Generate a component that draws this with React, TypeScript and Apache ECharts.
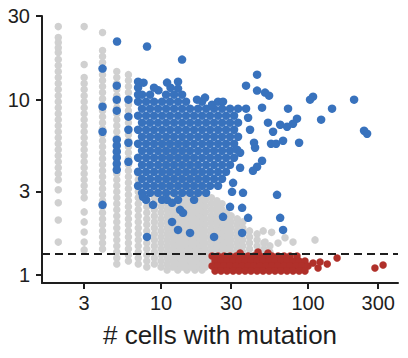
import React, { useEffect, useRef } from "react";
import * as echarts from "echarts";

const xTicks = [3, 10, 30, 100, 300];
const yTicks = [1, 3, 10, 30];
const xRange = [1.55, 409];
const yRange = [0.9, 30];
const threshold = 1.32;
const xTitle = "# cells with mutation";

// gray (non-significant) points: [cells, score list]
const grayColumns: Array<[number, number[]]> = [
  [2, [26.1, 22.6, 21.2, 19.8, 18.6, 16.93, 15.64, 14.45, 13.36, 12.35, 11.41, 10.54, 9.742, 9.002, 8.318, 7.687, 7.103, 6.564, 6.066, 5.606, 5.18, 4.787, 4.423, 4.087, 3.777, 3.49, 3.06, 2.58, 2.06, 1.54]],
  [3, [26.1, 15.85, 13.36, 12.35, 11.41, 10.54, 9.742, 9.002, 8.318, 7.687, 7.103, 6.564, 6.066, 5.606, 5.18, 4.787, 4.423, 4.087, 3.777, 3.49, 3.226, 2.981, 2.754, 2.29, 2.008, 1.76, 1.54, 1.39]],
  [4, [24.15, 19.05, 17.61, 16.27, 15.04, 13.89, 12.84, 11.87, 10.97, 10.13, 9.364, 8.653, 7.996, 7.389, 6.829, 6.31, 5.831, 5.388, 4.98, 4.601, 4.252, 3.929, 3.631, 3.355, 3.101, 2.865, 2.648, 2.447, 2.261, 2.089, 1.931, 1.784, 1.649, 1.524, 1.408]],
  [5, [14.45, 13.36, 12.35, 11.41, 10.54, 9.742, 9.002, 8.318, 7.687, 7.103, 6.564, 6.066, 5.606, 5.18, 4.787, 4.423, 4.087, 3.777, 3.49, 3.226, 2.981, 2.754, 2.545, 2.352, 2.173, 2.008, 1.856, 1.715, 1.585, 1.465, 1.353, 1.251, 1.156]],
  [6, [13.89, 12.84, 11.87, 10.97, 10.13, 9.364, 8.653, 7.996, 7.389, 6.829, 6.31, 5.831, 5.388, 4.98, 4.601, 4.252, 3.929, 3.631, 3.355, 3.101, 2.865, 2.648, 2.447, 2.261, 2.089, 1.931, 1.784, 1.649, 1.524, 1.408, 1.301, 1.202]],
  [7, [3.777, 3.49, 3.226, 2.981, 2.754, 2.545, 2.352, 2.173, 2.008, 1.856, 1.715, 1.585, 1.465, 1.353, 1.251, 1.156]],
  [8, [2.865, 2.648, 2.447, 2.261, 2.089, 1.931, 1.784, 1.649, 1.524, 1.408, 1.301, 1.202, 1.111]],
  [9, [2.981, 2.754, 2.545, 2.352, 2.173, 2.008, 1.856, 1.715, 1.585, 1.465, 1.353, 1.251, 1.156]],
  [10, [5.831, 5.388, 4.98, 4.601, 4.252, 3.929, 3.631, 3.355, 3.101, 2.865, 2.648, 2.447, 2.261, 2.089, 1.931, 1.784, 1.649, 1.524, 1.408, 1.301, 1.202, 1.111]],
  [11, [5.606, 5.18, 4.787, 4.423, 4.087, 3.777, 3.49, 3.226, 2.981, 2.754, 2.545, 2.352, 2.173, 2.008, 1.856, 1.715, 1.585, 1.465, 1.353, 1.251, 1.156, 1.068]],
  [12, [5.831, 5.388, 4.98, 4.601, 4.252, 3.929, 3.631, 3.355, 3.101, 2.865, 2.648, 2.447, 2.261, 2.089, 1.931, 1.784, 1.649, 1.524, 1.408, 1.301, 1.202, 1.111]],
  [13, [5.606, 5.18, 4.787, 4.423, 4.087, 3.777, 3.49, 3.226, 2.981, 2.754, 2.545, 2.352, 2.173, 2.008, 1.856, 1.715, 1.585, 1.465, 1.353, 1.251, 1.156, 1.068]],
  [14, [5.831, 5.388, 4.98, 4.601, 4.252, 3.929, 3.631, 3.355, 3.101, 2.865, 2.648, 2.447, 2.261, 2.089, 1.931, 1.784, 1.649, 1.524, 1.408, 1.301, 1.202, 1.111]],
  [15, [5.606, 5.18, 4.787, 4.423, 4.087, 3.777, 3.49, 3.226, 2.981, 2.754, 2.545, 2.352, 2.173, 2.008, 1.856, 1.715, 1.585, 1.465, 1.353, 1.251, 1.156, 1.068]],
  [16, [4.601, 4.252, 3.929, 3.631, 3.355, 3.101, 2.865, 2.648, 2.447, 2.261, 2.089, 1.931, 1.784, 1.649, 1.524, 1.408, 1.301, 1.202, 1.111]],
  [17, [4.423, 4.087, 3.777, 3.49, 3.226, 2.981, 2.754, 2.545, 2.352, 2.173, 2.008, 1.856, 1.715, 1.585, 1.465, 1.353, 1.251, 1.156, 1.068]],
  [18, [3.929, 3.631, 3.355, 3.101, 2.865, 2.648, 2.447, 2.261, 2.089, 1.931, 1.784, 1.649, 1.524, 1.408, 1.301, 1.202, 1.111]],
  [19, [3.49, 3.226, 2.981, 2.754, 2.545, 2.352, 2.173, 2.008, 1.856, 1.715, 1.585, 1.465, 1.353, 1.251, 1.156, 1.068]],
  [20, [3.101, 2.865, 2.648, 2.447, 2.261, 2.089, 1.931, 1.784, 1.649, 1.524, 1.408, 1.301, 1.202, 1.111]],
  [22, [2.754, 2.545, 2.352, 2.173, 2.008, 1.856, 1.715, 1.585, 1.465, 1.353, 1.251, 1.156]],
  [24, [2.648, 2.447, 2.261, 2.089, 1.931, 1.784, 1.649, 1.524, 1.408, 1.301, 1.202]],
  [26, [2.545, 2.352, 2.173, 2.008, 1.856, 1.715, 1.585, 1.465, 1.353, 1.251]],
  [28, [2.261, 2.089, 1.931, 1.784, 1.649, 1.524, 1.408, 1.301]],
  [30, [2.173, 2.008, 1.856, 1.715, 1.585, 1.465, 1.353]],
  [33, [2.089, 1.931, 1.784, 1.649, 1.524, 1.408, 1.301]],
  [36, [2.008, 1.856, 1.715, 1.585, 1.465, 1.353]],
  [40, [1.784, 1.649, 1.524, 1.408, 1.301]],
  [45, [1.715, 1.585, 1.465, 1.353]],
  [50, [1.524, 1.408, 1.301]],
  [55, [1.465, 1.353]],
];
const grayExtra: Array<[number, number]> = [
  [49.5, 1.784], [56.5, 1.75], [51, 1.54], [62.5, 1.52], [79, 1.54], [111.5, 1.585], [69.7, 1.63],
];

// blue (high) points, dense core rows: [score, cells list]
const blueCoreRows: Array<[number, number[]]> = [
  [10.68, [7.43, 8.42, 10.82, 12.26, 13.9]],
  [9.742, [6.98, 7.91, 8.96, 10.16, 11.51, 13.05, 14.79, 19.01, 24.42]],
  [8.884, [7.43, 8.42, 9.54, 10.82, 12.26, 13.9, 15.75, 17.85, 20.24, 22.94, 26.0, 29.47, 33.4]],
  [8.103, [6.98, 7.91, 8.96, 10.16, 11.51, 13.05, 14.79, 16.77, 19.01, 21.54, 24.42, 27.68, 31.38]],
  [7.389, [7.43, 8.42, 9.54, 10.82, 12.26, 13.9, 15.75, 17.85, 20.24, 22.94, 26.0, 29.47, 33.4]],
  [6.739, [6.98, 7.91, 8.96, 10.16, 11.51, 13.05, 14.79, 16.77, 19.01, 21.54, 24.42, 27.68, 31.38]],
  [6.146, [7.43, 8.42, 9.54, 10.82, 12.26, 13.9, 15.75, 17.85, 20.24, 22.94, 26.0, 29.47, 33.4]],
  [5.606, [6.98, 7.91, 8.96, 10.16, 11.51, 13.05, 14.79, 16.77, 19.01, 21.54, 24.42, 27.68, 31.38]],
  [5.112, [7.43, 8.42, 9.54, 10.82, 12.26, 13.9, 15.75, 17.85, 20.24, 22.94, 26.0, 29.47]],
  [4.663, [6.98, 7.91, 8.96, 10.16, 11.51, 13.05, 14.79, 16.77, 19.01, 21.54, 24.42, 27.68, 31.38]],
  [4.252, [7.43, 8.42, 9.54, 10.82, 12.26, 13.9, 15.75, 17.85, 20.24, 22.94, 26.0, 29.47]],
  [3.878, [6.98, 7.91, 8.96, 10.16, 11.51, 13.05, 14.79, 16.77, 19.01, 21.54, 24.42, 27.68]],
  [3.537, [7.43, 8.42, 9.54, 10.82, 12.26, 13.9, 15.75, 17.85, 20.24, 22.94, 26.0]],
  [3.226, [6.98, 7.91, 8.96, 10.16, 11.51, 13.05, 14.79, 16.77, 19.01, 21.54, 24.42]],
  [2.941, [7.43, 8.42, 9.54, 10.82, 12.26, 13.9, 15.75, 17.85, 20.24]],
  [2.683, [7.91, 10.16, 13.05, 16.77]],
];
const blueScatter: Array<[number, number]> = [
  [5.02, 21.45], [4, 15.04], [4, 9.12], [4, 6.564], [4, 2.512],
  [5, 12.02], [5, 10.0], [5, 8.653], [5, 5.908], [5, 5.46], [5, 5.045], [5, 4.663], [5, 4.308], [5, 3.981],
  [6, 10.0], [6, 7.996], [6, 6.739], [6, 5.68], [6, 4.423],
  [6.98, 12.67], [6.98, 11.71], [6.98, 10.68], [7.6, 12.5], [9.6, 11.3], [11.6, 11.7],
  [8.03, 20.09], [13.9, 16.93], [45.0, 13.89], [37.86, 12.02], [45.0, 11.26], [51.0, 10.97], [54.3, 10.54],
  [10.99, 12.51], [8.96, 11.71], [13.05, 12.67], [13.05, 11.56],
  [17.57, 10.0], [19.91, 10.27], [22.23, 9.364], [26.4, 9.742],
  [108.1, 10.4], [103.2, 10.0], [205.6, 10.0], [145.6, 8.884], [122.7, 7.687], [240.4, 6.651], [252, 6.393],
  [73.1, 8.884], [37.86, 8.884], [48.65, 9.002], [84.1, 7.788], [79.0, 7.292], [53.4, 7.389], [57.8, 6.564],
  [64.6, 7.197], [71.97, 7.01], [40.3, 6.739], [86.9, 5.68], [56.0, 5.606], [60.6, 5.606], [67.6, 5.831],
  [42.9, 5.68], [43.6, 5.318], [39.1, 7.89],
  [32.9, 5.18], [34.5, 4.98], [48.65, 4.482], [45.0, 4.142], [42.2, 3.929], [34.5, 4.087], [30.9, 3.355],
  [61.5, 2.865], [36.1, 2.941], [30.4, 2.981], [29.47, 2.447], [35.6, 2.415], [26.4, 2.145], [39.1, 2.117],
  [64.6, 2.117], [35.6, 1.738], [67.6, 1.808], [22.94, 1.649],
  [8.03, 1.649], [15.75, 1.738], [13.05, 1.808], [11.88, 2.008], [8.82, 2.512], [7.54, 2.791],
  [10.99, 2.683], [11.88, 2.579], [13.47, 2.352], [14.11, 2.261],
];

// red (low) points: [score, cells list]
const redRows: Array<[number, number[]]> = [
  [1.284, [22.23, 24.42, 26.83, 29.47, 32.4, 35.6, 39.1, 42.9, 47.2, 51.8, 56.9, 62.5, 68.7, 75.4, 84.1]],
  [1.202, [23.29, 25.6, 28.1, 30.9, 33.9, 37.3, 40.9, 45.0, 49.4, 54.3, 59.6, 65.5, 71.97, 79.0, 86.9, 95.3]],
  [1.126, [22.23, 24.42, 26.83, 29.47, 32.4, 35.6, 39.1, 42.9, 47.2, 51.8, 56.9, 62.5, 68.7, 75.4, 82.9, 91.0, 100]],
  [1.054, [23.29, 25.6, 28.1, 30.9, 33.9, 37.3, 40.9, 45.0, 49.4, 54.3, 59.6, 65.5, 71.97, 79.0, 86.9, 95.3]],
  [1.336, [34.5, 53.4]],
];
const redScatter: Array<[number, number]> = [
  [45.7, 1.353], [108.1, 1.171], [120.7, 1.186], [135, 1.156], [116.9, 1.096],
  [157.5, 1.251], [285, 1.096], [323.7, 1.141],
];

const font = '"Liberation Sans", Arial, Helvetica, sans-serif';
const ink = "#1e1e1e";

const toLog = (pts: Array<[number, number]>) => pts.map(([x, y]) => [Math.log10(x), Math.log10(y)]);
const fromCols = (cols: Array<[number, number[]]>) =>
  cols.flatMap(([x, ys]) => ys.map((y) => [x, y] as [number, number]));
const fromRows = (rows: Array<[number, number[]]>) =>
  rows.flatMap(([y, xs]) => xs.map((x) => [x, y] as [number, number]));

const nearestTick = (ticks: number[]) => (v: number) => {
  let best = ticks[0];
  for (const t of ticks) if (Math.abs(Math.log10(t) - v) < Math.abs(Math.log10(best) - v)) best = t;
  return String(best);
};

export default function App() {
  const ref = useRef<HTMLDivElement>(null);
  useEffect(() => {
    if (!ref.current) return;
    const chart = echarts.init(ref.current, undefined, { renderer: "svg" });
    const gray = toLog([...fromCols(grayColumns), ...grayExtra]);
    const blue = toLog([...fromRows(blueCoreRows), ...blueScatter]);
    const red = toLog([...fromRows(redRows), ...redScatter]);
    chart.setOption({
      animation: false,
      backgroundColor: "#ffffff",
      grid: { left: 42, right: 10, top: 16, bottom: 75, containLabel: false },
      xAxis: {
        type: "value",
        min: Math.log10(xRange[0]),
        max: Math.log10(xRange[1]),
        splitLine: { show: false },
        axisLine: { show: true, onZero: false, lineStyle: { color: ink, width: 2 } },
        axisTick: { show: true, length: 6, lineStyle: { color: ink, width: 2 }, customValues: xTicks.map(Math.log10) },
        axisLabel: {
          customValues: xTicks.map(Math.log10),
          formatter: nearestTick(xTicks),
          fontSize: 20,
          fontFamily: font,
          color: ink,
          margin: 10,
        },
        name: xTitle,
        nameLocation: "middle",
        nameGap: 39,
        nameTextStyle: { fontSize: 26, fontFamily: font, color: ink },
      },
      yAxis: {
        type: "value",
        min: Math.log10(yRange[0]),
        max: Math.log10(yRange[1]),
        splitLine: { show: false },
        axisLine: { show: true, onZero: false, lineStyle: { color: ink, width: 2 } },
        axisTick: { show: true, length: 6, lineStyle: { color: ink, width: 2 }, customValues: yTicks.map(Math.log10) },
        axisLabel: {
          customValues: yTicks.map(Math.log10),
          formatter: nearestTick(yTicks),
          fontSize: 20,
          fontFamily: font,
          color: ink,
          margin: 12,
        },
      },
      series: [
        {
          type: "scatter",
          data: gray,
          symbolSize: 7.5,
          itemStyle: { color: "#d0d0d0", opacity: 1 },
          silent: true,
          z: 1,
        },
        {
          type: "scatter",
          data: blue,
          symbolSize: 8.5,
          itemStyle: { color: "#3872bd", opacity: 1 },
          silent: true,
          z: 2,
        },
        {
          type: "scatter",
          data: red,
          symbolSize: 7.5,
          itemStyle: { color: "#b0302a", opacity: 1 },
          silent: true,
          z: 3,
          markLine: {
            silent: true,
            symbol: ["none", "none"],
            label: { show: false },
            lineStyle: { color: ink, width: 2, type: [8, 5] },
            data: [{ yAxis: Math.log10(threshold) }],
            z: 10,
          },
        },
      ],
    });
    return () => chart.dispose();
  }, []);
  return (
    <div
      ref={ref}
      style={{ position: "absolute", left: 0, top: 0, width: 408, height: 358, background: "#fff" }}
    />
  );
}
